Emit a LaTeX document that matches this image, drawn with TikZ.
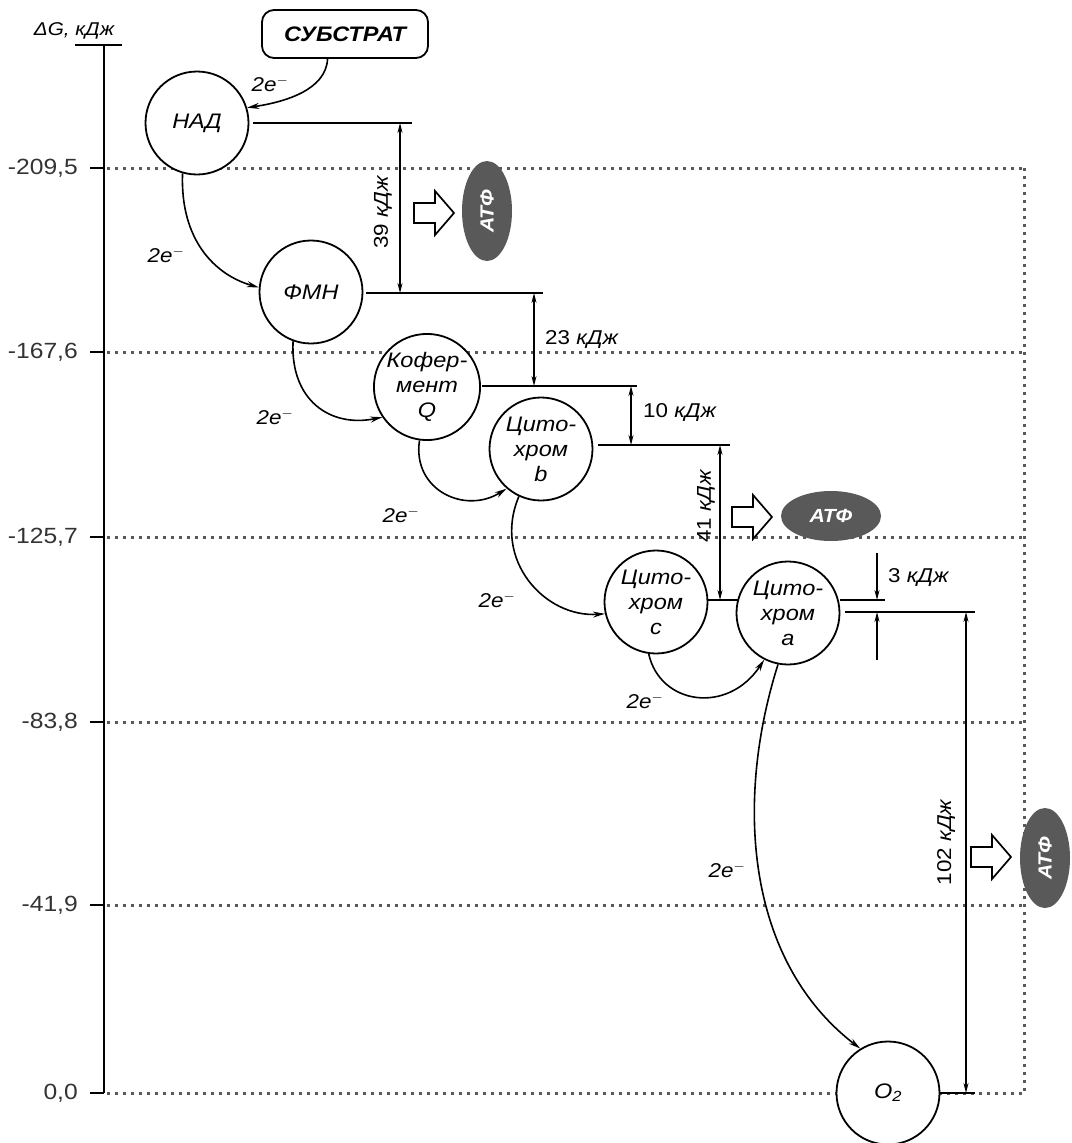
\documentclass[tikz,border=0pt]{standalone}
\usepackage{fontspec}
\setmainfont{Liberation Sans}[FakeStretch=1.12]
\usetikzlibrary{arrows.meta,shapes.geometric}
\begin{document}
\begin{tikzpicture}[x=1pt,y=-1pt,
  lvl/.style={draw, circle, minimum size=103pt, inner sep=0pt, line width=1.8pt, fill=white, align=center, font=\itshape\fontsize{21}{25}\selectfont},
  eline/.style={line width=1.6pt, -{Stealth[length=12pt,width=6pt]}},
  dimline/.style={line width=1.4pt, {Stealth[length=10pt,width=5pt]}-{Stealth[length=10pt,width=5pt]}},
  tipline/.style={line width=1.4pt, -{Stealth[length=10pt,width=5pt]}},
  levelline/.style={line width=1.8pt},
  gridline/.style={line width=3pt, black!65, dash pattern=on 3pt off 5pt},
  atp/.style={ellipse, fill=black!65, text=white, minimum width=100pt, minimum height=50pt, inner sep=0pt, font=\bfseries\itshape\fontsize{19}{20}\selectfont},
  elabel/.style={font=\itshape\fontsize{20}{20}\selectfont, inner sep=0pt},
  dlabel/.style={font=\fontsize{20}{20}\selectfont, inner sep=0pt},
  ticklabel/.style={font=\fontsize{22}{22}\selectfont, text=black!80, anchor=east, inner sep=0pt},
  hollow/.pic={\draw[line width=1.7pt, fill=white] (-20,-10) -- (1,-10) -- (1,-22) -- (20,0) -- (1,22) -- (1,10) -- (-20,10) -- cycle;}
]
\useasboundingbox (0,0) rectangle (1071,1143);

% grid
\foreach \yy in {168,352,537,722,905,1093}{
  \draw[gridline] (107,\yy) -- (1024,\yy);
  \draw[line width=2.5pt] (90,\yy) -- (104,\yy);
}
\draw[gridline] (1024,168) -- (1024,1093);

% axis
\draw[line width=2.5pt] (104,45) -- (104,1093);
\draw[line width=2pt] (75,45) -- (122,45);
\node[font=\itshape\fontsize{18.5}{19}\selectfont, inner sep=0pt] (axlab) at (74,31) {ΔG, кДж};
\node[ticklabel] (t1) at (78,168) {-209,5};
\node[ticklabel] (t2) at (78,352) {-167,6};
\node[ticklabel] (t3) at (78,537) {-125,7};
\node[ticklabel] (t4) at (78,722) {-83,8};
\node[ticklabel] (t5) at (78,905) {-41,9};
\node[ticklabel] (t6) at (78,1093) {0,0};

% level lines
\draw[levelline] (253,123) -- (412,123);
\draw[levelline] (366,293) -- (543,293);
\draw[levelline] (482,386) -- (637,386);
\draw[levelline] (598,445) -- (730,445);
\draw[levelline] (708,600) -- (738,600);
\draw[levelline] (840,600) -- (885,600);
\draw[levelline] (845,612) -- (975,612);
\draw[levelline] (939,1093) -- (975,1093);

% dimension arrows
\draw[dimline] (400,123) -- (400,293);
\draw[dimline] (534,293) -- (534,386);
\draw[dimline] (631,386) -- (631,445);
\draw[dimline] (720,445) -- (720,600);
\draw[tipline] (877,553) -- (877,600);
\draw[tipline] (877,660) -- (877,612);
\draw[dimline] (966,612) -- (966,1093);

\node[dlabel, rotate=90] (l39) at (383,212) {39 \textit{кДж}};
\node[dlabel, anchor=west] (l23) at (545,340) {23 \textit{кДж}};
\node[dlabel, anchor=west] (l10) at (643,413) {10 \textit{кДж}};
\node[dlabel, rotate=90] (l41) at (706,506) {41 \textit{кДж}};
\node[dlabel, anchor=west] (l3) at (888,578) {3 \textit{кДж}};
\node[dlabel, rotate=90] (l102) at (946,842) {102 \textit{кДж}};

% nodes
\node[draw, rounded corners=12pt, line width=1.8pt, minimum width=166pt, minimum height=48pt, inner sep=0pt, fill=white, font=\bfseries\itshape\fontsize{21}{22}\selectfont] (sub) at (345,34) {СУБСТРАТ};
\node[lvl] (nad) at (197,123) {НАД};
\node[lvl] (fmn) at (311,292) {ФМН};
\node[lvl] (q) at (427,387) {Кофер-\\мент\\Q};
\node[lvl] (cb) at (541,449) {Цито-\\хром\\b};
\node[lvl] (cc) at (656,602) {Цито-\\хром\\c};
\node[lvl] (ca) at (788,613) {Цито-\\хром\\a};
\node[lvl] (o2) at (888,1093) {O\textsubscript{2}};

% ATP
\pic at (434,213) {hollow};
\pic at (752,517) {hollow};
\pic at (991,857) {hollow};
\node[atp, rotate=90] (atp1) at (487,211) {АТФ};
\node[atp] (atp2) at (831,516) {АТФ};
\node[atp, rotate=90] (atp3) at (1045,858) {АТФ};

% electron transfers
\draw[eline] (sub.235) .. controls (326,90) and (285,102) .. (nad.17);
\draw[eline] (nad.254) .. controls (180,240) and (215,275) .. (fmn.175);
\draw[eline] (fmn.250) .. controls (290,400) and (330,428) .. (q.214);
\draw[eline] (q.262) .. controls (412,490) and (465,515) .. (cb.229);
\draw[eline] (cb.245) .. controls (492,560) and (545,618) .. (cc.193);
\draw[eline] (cc.262) .. controls (660,705) and (728,715) .. (ca.243);
\draw[eline] (ca.259) .. controls (735,800) and (745,960) .. (o2.122);

\node[elabel] (e1) at (270,84) {2e$^{-}$};
\node[elabel] (e2) at (166,255) {2e$^{-}$};
\node[elabel] (e3) at (275,417) {2e$^{-}$};
\node[elabel] (e4) at (401,515) {2e$^{-}$};
\node[elabel] (e5) at (497,600) {2e$^{-}$};
\node[elabel] (e6) at (645,701) {2e$^{-}$};
\node[elabel] (e7) at (727,870) {2e$^{-}$};
\end{tikzpicture}
\end{document}
